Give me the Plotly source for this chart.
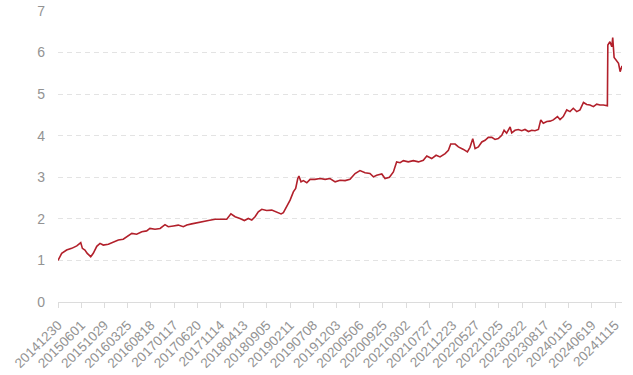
import plotly.graph_objects as go

# trading-day index of sampled points
day_index = [0, 16, 37, 59, 81, 98, 105, 116, 126, 141, 152, 167, 181, 195, 217, 238, 260, 281, 303, 318,
             339, 361, 382, 396, 418, 440, 461, 475, 497, 518, 540, 555, 576, 598, 619, 648, 677, 705, 727, 745,
             763, 784, 803, 820, 835, 849, 863, 878, 899, 921, 942, 961, 971, 985, 1000, 1014, 1024, 1033, 1038,
             1047, 1057, 1072, 1086, 1107, 1129, 1151, 1172, 1194, 1215, 1237, 1258, 1280, 1301, 1323, 1344, 1359,
             1373, 1395, 1409, 1428, 1445, 1459, 1474, 1488, 1509, 1531, 1553, 1574, 1589, 1610, 1629, 1646, 1668,
             1682, 1692, 1711, 1725, 1747, 1764, 1775, 1787, 1797, 1811, 1826, 1840, 1854, 1869, 1883, 1897, 1912,
             1922, 1933, 1948, 1955, 1969, 1983, 1998, 2012, 2027, 2041, 2055, 2070, 2080, 2091, 2106, 2120, 2134,
             2152, 2163, 2177, 2192, 2206, 2220, 2235, 2249, 2264, 2278, 2292, 2307, 2321, 2335, 2350, 2367, 2369,
             2378, 2386, 2390, 2396, 2407, 2415, 2422, 2430]
nav_values = [1.00, 1.17, 1.25, 1.29, 1.35, 1.43, 1.29, 1.25, 1.17, 1.09, 1.17, 1.34, 1.41, 1.37, 1.39, 1.43, 1.49,
              1.51, 1.59, 1.65, 1.63, 1.69, 1.71, 1.77, 1.75, 1.77, 1.86, 1.81, 1.83, 1.85, 1.81, 1.85, 1.88, 1.91,
              1.93, 1.96, 1.99, 2.00, 1.99, 2.12, 2.05, 2.01, 1.96, 2.01, 1.97, 2.05, 2.17, 2.23, 2.20, 2.21, 2.17,
              2.12, 2.15, 2.29, 2.45, 2.65, 2.73, 2.97, 3.03, 2.89, 2.92, 2.87, 2.95, 2.95, 2.97, 2.95, 2.97, 2.89,
              2.93, 2.92, 2.95, 3.09, 3.16, 3.11, 3.09, 3.01, 3.05, 3.08, 2.97, 3.00, 3.13, 3.37, 3.35, 3.40, 3.37,
              3.40, 3.37, 3.41, 3.51, 3.45, 3.53, 3.49, 3.57, 3.65, 3.80, 3.80, 3.73, 3.67, 3.61, 3.72, 3.93, 3.69,
              3.73, 3.85, 3.89, 3.96, 3.96, 3.91, 3.93, 4.01, 4.13, 4.06, 4.21, 4.07, 4.13, 4.15, 4.12, 4.15, 4.10,
              4.13, 4.12, 4.15, 4.38, 4.30, 4.34, 4.35, 4.38, 4.46, 4.39, 4.46, 4.62, 4.58, 4.66, 4.58, 4.62, 4.80,
              4.75, 4.74, 4.70, 4.76, 4.74, 4.74, 4.72, 6.18, 6.26, 6.14, 6.36, 5.88, 5.80, 5.74, 5.54, 5.68]

tick_index = [0, 100, 200, 300, 400, 500, 600, 700, 800, 900, 1000, 1100, 1200, 1300, 1400, 1500, 1600,
              1700, 1800, 1900, 2000, 2100, 2200, 2300, 2400]
tick_labels = ["20141230", "20150601", "20151029", "20160325", "20160818", "20170117", "20170620",
               "20171114", "20180413", "20180905", "20190211", "20190708", "20191203", "20200506",
               "20200925", "20210302", "20210727", "20211223", "20220527", "20221025", "20230322",
               "20230817", "20240115", "20240619", "20241115"]

fig = go.Figure()
fig.add_trace(go.Scatter(
    x=day_index, y=nav_values, mode="lines",
    line=dict(color="#b2202b", width=1.6),
    showlegend=False,
))

fig.update_layout(
    width=633, height=375,
    margin=dict(l=58, r=11, t=11, b=73),
    paper_bgcolor="white", plot_bgcolor="white",
    font=dict(family="Liberation Sans, Arial, sans-serif", size=14, color="#939393"),
)
fig.update_xaxes(
    range=[0, 2430], tickmode="array", tickvals=tick_index, ticktext=tick_labels,
    tickangle=-45, showgrid=False, zeroline=False, automargin=False,
    showline=True, linecolor="#dcdcdc", linewidth=1,
    ticks="outside", ticklen=5, tickcolor="#dcdcdc", ticklabelstandoff=4,
    tickfont=dict(size=13.5),
)
fig.update_yaxes(
    range=[0, 7], dtick=1, tick0=0, showgrid=True, gridcolor="#e3e3e3", griddash="5px,4px",
    zeroline=False, showline=False, ticks="", ticklabelstandoff=12, automargin=False,
    tickfont=dict(size=14),
)

fig.write_html("out.html")
